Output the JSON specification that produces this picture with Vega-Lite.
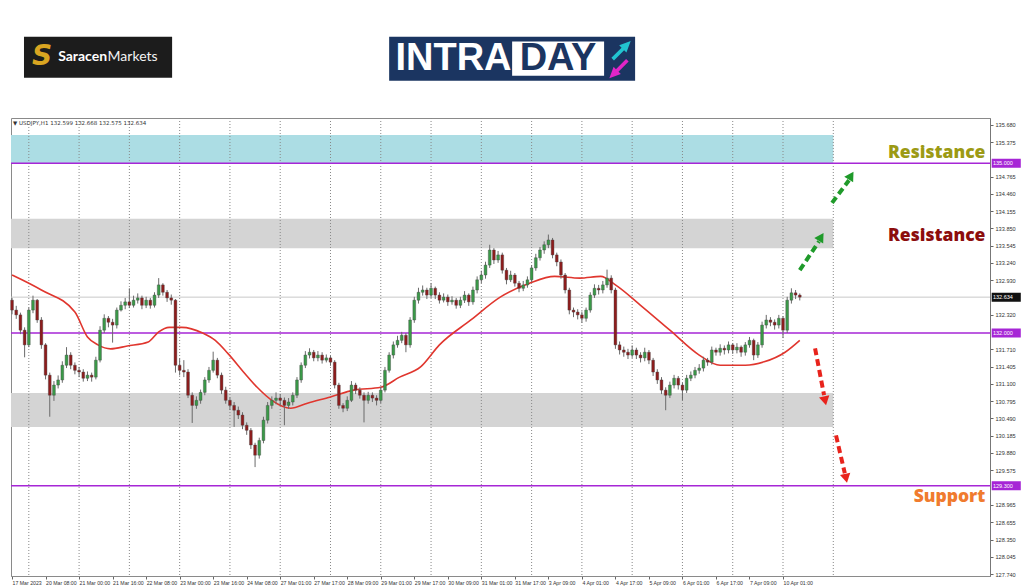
{
"$schema": "https://vega.github.io/schema/vega-lite/v6.json",
"width": 979, "height": 458,
"autosize": "none",
"padding": {"left": 11, "top": 118, "right": 34, "bottom": 11},
"background": "white",
"config": {"view": {"stroke": "#8a8a8a", "strokeWidth": 1}, "font": "DejaVu Sans",
  "axis": {"labelOverlap": false, "labelSeparation": 0, "labelFont": "Liberation Sans", "labelFontSize": 5.6, "labelColor": "#333"},
  "scale": {"continuousPadding": 0}},
"datasets": {
"candles": [
{"t":0,"o":132.58,"h":132.62,"l":132.33,"c":132.405},
{"t":2,"o":132.405,"h":132.48,"l":132.25,"c":132.32},
{"t":4,"o":132.32,"h":132.36,"l":131.98,"c":132.05},
{"t":6,"o":132.05,"h":132.10,"l":131.57,"c":131.79},
{"t":8,"o":131.79,"h":132.45,"l":131.75,"c":132.405},
{"t":10,"o":132.405,"h":132.66,"l":132.35,"c":132.58},
{"t":12,"o":132.58,"h":132.60,"l":132.18,"c":132.23},
{"t":14,"o":132.23,"h":132.28,"l":131.72,"c":131.79},
{"t":16,"o":131.79,"h":131.82,"l":131.18,"c":131.255},
{"t":18,"o":131.255,"h":131.30,"l":130.52,"c":130.90},
{"t":20,"o":130.90,"h":131.15,"l":130.80,"c":131.08},
{"t":22,"o":131.08,"h":131.25,"l":131.02,"c":131.17},
{"t":24,"o":131.17,"h":131.50,"l":131.12,"c":131.43},
{"t":26,"o":131.43,"h":131.75,"l":131.38,"c":131.61},
{"t":28,"o":131.61,"h":131.66,"l":131.36,"c":131.43},
{"t":30,"o":131.43,"h":131.48,"l":131.27,"c":131.34},
{"t":32,"o":131.34,"h":131.40,"l":131.22,"c":131.31},
{"t":34,"o":131.31,"h":131.36,"l":131.14,"c":131.20},
{"t":36,"o":131.20,"h":131.32,"l":131.15,"c":131.255},
{"t":38,"o":131.255,"h":131.30,"l":131.14,"c":131.22},
{"t":40,"o":131.22,"h":131.58,"l":131.18,"c":131.52},
{"t":42,"o":131.52,"h":132.12,"l":131.48,"c":132.05},
{"t":44,"o":132.05,"h":132.33,"l":132.00,"c":132.26},
{"t":46,"o":132.26,"h":132.30,"l":132.10,"c":132.19},
{"t":48,"o":132.19,"h":132.25,"l":131.83,"c":132.14},
{"t":50,"o":132.14,"h":132.45,"l":132.08,"c":132.405},
{"t":52,"o":132.405,"h":132.56,"l":132.38,"c":132.49},
{"t":54,"o":132.49,"h":132.62,"l":132.42,"c":132.55},
{"t":56,"o":132.55,"h":132.79,"l":132.44,"c":132.49},
{"t":58,"o":132.49,"h":132.66,"l":132.45,"c":132.58},
{"t":60,"o":132.58,"h":132.70,"l":132.52,"c":132.62},
{"t":62,"o":132.62,"h":132.66,"l":132.42,"c":132.49},
{"t":64,"o":132.49,"h":132.64,"l":132.44,"c":132.58},
{"t":66,"o":132.58,"h":132.62,"l":132.43,"c":132.49},
{"t":68,"o":132.49,"h":132.72,"l":132.45,"c":132.67},
{"t":70,"o":132.67,"h":132.97,"l":132.62,"c":132.85},
{"t":72,"o":132.85,"h":132.88,"l":132.66,"c":132.72},
{"t":74,"o":132.72,"h":132.76,"l":132.55,"c":132.62},
{"t":76,"o":132.62,"h":132.68,"l":132.50,"c":132.58},
{"t":78,"o":132.58,"h":132.60,"l":131.30,"c":131.43},
{"t":80,"o":131.43,"h":131.55,"l":131.25,"c":131.34},
{"t":82,"o":131.34,"h":131.52,"l":131.22,"c":131.31},
{"t":84,"o":131.31,"h":131.36,"l":130.85,"c":130.90},
{"t":86,"o":130.90,"h":130.95,"l":130.41,"c":130.72},
{"t":88,"o":130.72,"h":130.88,"l":130.66,"c":130.81},
{"t":90,"o":130.81,"h":131.00,"l":130.75,"c":130.95},
{"t":92,"o":130.95,"h":131.22,"l":130.90,"c":131.17},
{"t":94,"o":131.17,"h":131.40,"l":131.12,"c":131.34},
{"t":96,"o":131.34,"h":131.67,"l":131.30,"c":131.52},
{"t":98,"o":131.52,"h":131.56,"l":131.20,"c":131.255},
{"t":100,"o":131.255,"h":131.30,"l":130.92,"c":130.99},
{"t":102,"o":130.99,"h":131.05,"l":130.75,"c":130.81},
{"t":104,"o":130.81,"h":130.86,"l":130.64,"c":130.72},
{"t":106,"o":130.72,"h":130.78,"l":130.34,"c":130.635},
{"t":108,"o":130.635,"h":130.70,"l":130.48,"c":130.55},
{"t":110,"o":130.55,"h":130.60,"l":130.30,"c":130.37},
{"t":112,"o":130.37,"h":130.42,"l":130.20,"c":130.28},
{"t":114,"o":130.28,"h":130.32,"l":129.95,"c":130.02},
{"t":116,"o":130.02,"h":130.06,"l":129.63,"c":129.84},
{"t":118,"o":129.84,"h":130.15,"l":129.78,"c":130.10},
{"t":120,"o":130.10,"h":130.52,"l":130.05,"c":130.46},
{"t":122,"o":130.46,"h":130.78,"l":130.40,"c":130.72},
{"t":124,"o":130.72,"h":130.88,"l":130.66,"c":130.81},
{"t":126,"o":130.81,"h":130.95,"l":130.74,"c":130.85},
{"t":128,"o":130.85,"h":130.92,"l":130.72,"c":130.81},
{"t":130,"o":130.81,"h":130.86,"l":130.37,"c":130.72},
{"t":132,"o":130.72,"h":130.85,"l":130.66,"c":130.78},
{"t":134,"o":130.78,"h":130.95,"l":130.72,"c":130.90},
{"t":136,"o":130.90,"h":131.22,"l":130.85,"c":131.17},
{"t":138,"o":131.17,"h":131.48,"l":131.12,"c":131.43},
{"t":140,"o":131.43,"h":131.68,"l":131.38,"c":131.61},
{"t":142,"o":131.61,"h":131.73,"l":131.55,"c":131.66},
{"t":144,"o":131.66,"h":131.70,"l":131.50,"c":131.56},
{"t":146,"o":131.56,"h":131.68,"l":131.50,"c":131.61},
{"t":148,"o":131.61,"h":131.66,"l":131.46,"c":131.52},
{"t":150,"o":131.52,"h":131.62,"l":131.48,"c":131.56},
{"t":152,"o":131.56,"h":131.60,"l":131.42,"c":131.485},
{"t":154,"o":131.485,"h":131.52,"l":131.02,"c":131.08},
{"t":156,"o":131.08,"h":131.12,"l":130.66,"c":130.72},
{"t":158,"o":130.72,"h":130.76,"l":130.60,"c":130.67},
{"t":160,"o":130.67,"h":130.88,"l":130.62,"c":130.81},
{"t":162,"o":130.81,"h":131.15,"l":130.78,"c":131.08},
{"t":164,"o":131.08,"h":131.12,"l":130.92,"c":130.99},
{"t":166,"o":130.99,"h":131.04,"l":130.84,"c":130.90},
{"t":168,"o":130.90,"h":130.95,"l":130.42,"c":130.81},
{"t":170,"o":130.81,"h":130.96,"l":130.75,"c":130.90},
{"t":172,"o":130.90,"h":130.95,"l":130.78,"c":130.85},
{"t":174,"o":130.85,"h":130.90,"l":130.72,"c":130.81},
{"t":176,"o":130.81,"h":131.05,"l":130.76,"c":130.99},
{"t":178,"o":130.99,"h":131.40,"l":130.95,"c":131.34},
{"t":180,"o":131.34,"h":131.66,"l":131.30,"c":131.61},
{"t":182,"o":131.61,"h":131.85,"l":131.55,"c":131.79},
{"t":184,"o":131.79,"h":131.95,"l":131.74,"c":131.87},
{"t":186,"o":131.87,"h":132.02,"l":131.82,"c":131.96},
{"t":188,"o":131.96,"h":132.00,"l":131.66,"c":131.79},
{"t":190,"o":131.79,"h":132.28,"l":131.74,"c":132.23},
{"t":192,"o":132.23,"h":132.64,"l":132.18,"c":132.58},
{"t":194,"o":132.58,"h":132.80,"l":132.52,"c":132.72},
{"t":196,"o":132.72,"h":132.84,"l":132.66,"c":132.76},
{"t":198,"o":132.76,"h":132.80,"l":132.60,"c":132.67},
{"t":200,"o":132.67,"h":132.88,"l":132.62,"c":132.79},
{"t":202,"o":132.79,"h":132.82,"l":132.60,"c":132.67},
{"t":204,"o":132.67,"h":132.72,"l":132.52,"c":132.58},
{"t":206,"o":132.58,"h":132.70,"l":132.54,"c":132.635},
{"t":208,"o":132.635,"h":132.68,"l":132.48,"c":132.55},
{"t":210,"o":132.55,"h":132.65,"l":132.50,"c":132.58},
{"t":212,"o":132.58,"h":132.62,"l":132.43,"c":132.49},
{"t":214,"o":132.49,"h":132.64,"l":132.44,"c":132.58},
{"t":216,"o":132.58,"h":132.74,"l":132.53,"c":132.67},
{"t":218,"o":132.67,"h":132.70,"l":132.48,"c":132.55},
{"t":220,"o":132.55,"h":132.82,"l":132.50,"c":132.76},
{"t":222,"o":132.76,"h":133.00,"l":132.70,"c":132.94},
{"t":224,"o":132.94,"h":133.10,"l":132.88,"c":133.025},
{"t":226,"o":133.025,"h":133.26,"l":132.96,"c":133.20},
{"t":228,"o":133.20,"h":133.56,"l":133.15,"c":133.467},
{"t":230,"o":133.467,"h":133.50,"l":133.22,"c":133.29},
{"t":232,"o":133.29,"h":133.45,"l":133.24,"c":133.38},
{"t":234,"o":133.38,"h":133.42,"l":133.05,"c":133.11},
{"t":236,"o":133.11,"h":133.15,"l":132.86,"c":132.94},
{"t":238,"o":132.94,"h":133.10,"l":132.90,"c":133.025},
{"t":240,"o":133.025,"h":133.06,"l":132.82,"c":132.88},
{"t":242,"o":132.88,"h":132.92,"l":132.72,"c":132.79},
{"t":244,"o":132.79,"h":132.92,"l":132.74,"c":132.85},
{"t":246,"o":132.85,"h":133.00,"l":132.80,"c":132.94},
{"t":248,"o":132.94,"h":133.20,"l":132.90,"c":133.15},
{"t":250,"o":133.15,"h":133.40,"l":133.10,"c":133.33},
{"t":252,"o":133.33,"h":133.52,"l":133.28,"c":133.467},
{"t":254,"o":133.467,"h":133.62,"l":133.40,"c":133.56},
{"t":256,"o":133.56,"h":133.74,"l":133.50,"c":133.644},
{"t":258,"o":133.644,"h":133.68,"l":133.32,"c":133.38},
{"t":260,"o":133.38,"h":133.42,"l":133.18,"c":133.255},
{"t":262,"o":133.255,"h":133.30,"l":132.96,"c":133.025},
{"t":264,"o":133.025,"h":133.06,"l":132.70,"c":132.76},
{"t":266,"o":132.76,"h":132.80,"l":132.33,"c":132.405},
{"t":268,"o":132.405,"h":132.45,"l":132.28,"c":132.37},
{"t":270,"o":132.37,"h":132.42,"l":132.24,"c":132.32},
{"t":272,"o":132.32,"h":132.38,"l":132.18,"c":132.26},
{"t":274,"o":132.26,"h":132.45,"l":132.20,"c":132.405},
{"t":276,"o":132.405,"h":132.72,"l":132.36,"c":132.67},
{"t":278,"o":132.67,"h":132.86,"l":132.62,"c":132.79},
{"t":280,"o":132.79,"h":132.85,"l":132.68,"c":132.76},
{"t":282,"o":132.76,"h":132.92,"l":132.70,"c":132.85},
{"t":284,"o":132.85,"h":133.12,"l":132.80,"c":132.97},
{"t":286,"o":132.97,"h":133.02,"l":132.70,"c":132.76},
{"t":288,"o":132.76,"h":132.80,"l":131.72,"c":131.79},
{"t":290,"o":131.79,"h":131.85,"l":131.62,"c":131.70},
{"t":292,"o":131.70,"h":131.76,"l":131.58,"c":131.66},
{"t":294,"o":131.66,"h":131.72,"l":131.54,"c":131.61},
{"t":296,"o":131.61,"h":131.78,"l":131.56,"c":131.70},
{"t":298,"o":131.70,"h":131.74,"l":131.54,"c":131.61},
{"t":300,"o":131.61,"h":131.66,"l":131.48,"c":131.56},
{"t":302,"o":131.56,"h":131.74,"l":131.50,"c":131.66},
{"t":304,"o":131.66,"h":131.70,"l":131.45,"c":131.52},
{"t":306,"o":131.52,"h":131.56,"l":131.24,"c":131.31},
{"t":308,"o":131.31,"h":131.36,"l":131.10,"c":131.17},
{"t":310,"o":131.17,"h":131.22,"l":130.92,"c":130.99},
{"t":312,"o":130.99,"h":131.04,"l":130.635,"c":130.90},
{"t":314,"o":130.90,"h":131.14,"l":130.85,"c":131.08},
{"t":316,"o":131.08,"h":131.26,"l":131.02,"c":131.20},
{"t":318,"o":131.20,"h":131.24,"l":131.00,"c":131.08},
{"t":320,"o":131.08,"h":131.12,"l":130.81,"c":130.99},
{"t":322,"o":130.99,"h":131.26,"l":130.94,"c":131.20},
{"t":324,"o":131.20,"h":131.32,"l":131.15,"c":131.255},
{"t":326,"o":131.255,"h":131.40,"l":131.20,"c":131.34},
{"t":328,"o":131.34,"h":131.45,"l":131.28,"c":131.38},
{"t":330,"o":131.38,"h":131.58,"l":131.32,"c":131.52},
{"t":332,"o":131.52,"h":131.56,"l":131.42,"c":131.485},
{"t":334,"o":131.485,"h":131.76,"l":131.44,"c":131.70},
{"t":336,"o":131.70,"h":131.74,"l":131.60,"c":131.66},
{"t":338,"o":131.66,"h":131.80,"l":131.60,"c":131.73},
{"t":340,"o":131.73,"h":131.78,"l":131.62,"c":131.70},
{"t":342,"o":131.70,"h":131.85,"l":131.64,"c":131.79},
{"t":344,"o":131.79,"h":131.82,"l":131.63,"c":131.70},
{"t":346,"o":131.70,"h":131.82,"l":131.64,"c":131.75},
{"t":348,"o":131.75,"h":131.78,"l":131.58,"c":131.66},
{"t":350,"o":131.66,"h":131.84,"l":131.60,"c":131.79},
{"t":352,"o":131.79,"h":131.93,"l":131.74,"c":131.87},
{"t":354,"o":131.87,"h":131.90,"l":131.52,"c":131.61},
{"t":356,"o":131.61,"h":131.84,"l":131.56,"c":131.79},
{"t":358,"o":131.79,"h":132.20,"l":131.74,"c":132.14},
{"t":360,"o":132.14,"h":132.32,"l":132.08,"c":132.23},
{"t":362,"o":132.23,"h":132.28,"l":132.12,"c":132.19},
{"t":364,"o":132.19,"h":132.24,"l":132.06,"c":132.14},
{"t":366,"o":132.14,"h":132.32,"l":132.08,"c":132.26},
{"t":368,"o":132.26,"h":132.30,"l":131.91,"c":132.05},
{"t":370,"o":132.05,"h":132.64,"l":132.00,"c":132.58},
{"t":372,"o":132.58,"h":132.79,"l":132.52,"c":132.71},
{"t":374,"o":132.71,"h":132.76,"l":132.60,"c":132.67},
{"t":376,"o":132.67,"h":132.70,"l":132.575,"c":132.634}
],
"ma": [
{"t":0,"p":133.025},{"t":14,"p":132.76},{"t":30,"p":132.37},{"t":36,"p":131.93},{"t":41,"p":131.79},{"t":47,"p":131.72},{"t":55,"p":131.77},{"t":65,"p":131.84},{"t":70,"p":132.02},{"t":75,"p":132.10},{"t":81,"p":132.10},{"t":91,"p":132.00},{"t":97,"p":131.87},{"t":103,"p":131.64},{"t":111,"p":131.29},{"t":117,"p":131.04},{"t":124,"p":130.81},{"t":133,"p":130.67},{"t":141,"p":130.76},{"t":152,"p":130.87},{"t":163,"p":130.99},{"t":176,"p":131.04},{"t":185,"p":131.22},{"t":195,"p":131.40},{"t":204,"p":131.79},{"t":219,"p":132.23},{"t":233,"p":132.635},{"t":247,"p":132.88},{"t":259,"p":133.00},{"t":271,"p":132.97},{"t":281,"p":133.00},{"t":288,"p":132.85},{"t":300,"p":132.49},{"t":314,"p":132.05},{"t":328,"p":131.61},{"t":338,"p":131.43},{"t":350,"p":131.43},{"t":359,"p":131.49},{"t":369,"p":131.66},{"t":376,"p":131.87}
],
"zones": [
{"zone":"cyan","lo":135.0,"hi":135.5},
{"zone":"grey","lo":133.5,"hi":134.02},
{"zone":"grey","lo":130.34,"hi":130.94}
],
"grid": [{"g":8},{"g":32},{"g":56},{"g":80},{"g":104},{"g":128},{"g":152},{"g":176},{"g":200},{"g":224},{"g":248},{"g":272},{"g":296},{"g":320},{"g":344},{"g":368},{"g":392}],
"levels": [{"p":135.0},{"p":132.0},{"p":129.3}],
"last": [{"p":132.634}],
"garrow": [
{"a":"g1","t":376,"p":133.11},{"a":"g1","t":385.2,"p":133.62},
{"a":"g2","t":391.4,"p":134.30},{"a":"g2","t":399.5,"p":134.70}
],
"ghead": [{"t":386.2,"p":133.70},{"t":400.5,"p":134.78}],
"rarrow": [
{"a":"r1","t":383.3,"p":131.73},{"a":"r1","t":387.6,"p":130.90},
{"a":"r2","t":393.3,"p":130.19},{"a":"r2","t":397.5,"p":129.52}
],
"rhead": [{"t":388.1,"p":130.80},{"t":398.1,"p":129.43}]
},
"layer": [
{
"data": {"name": "zones"},
"mark": {"type": "rect"},
"encoding": {
"x": {"datum": -0.5, "type": "quantitative", "scale": {"domain": [-0.5, 466.8], "nice": false, "zero": false, "padding": 0},
  "axis": {"values": [0,16,32,48,64,80,96,112,128,144,160,176,192,208,224,240,256,272,288,304,320,336,352,368], "tickCount": 200,
    "labelExpr": "['17 Mar 2023','20 Mar 08:00','21 Mar 00:00','21 Mar 16:00','22 Mar 08:00','23 Mar 00:00','23 Mar 16:00','24 Mar 08:00','27 Mar 01:00','27 Mar 17:00','28 Mar 09:00','29 Mar 01:00','29 Mar 17:00','30 Mar 09:00','31 Mar 01:00','31 Mar 17:00','3 Apr 09:00','4 Apr 01:00','4 Apr 17:00','5 Apr 09:00','6 Apr 01:00','6 Apr 17:00','7 Apr 09:00','10 Apr 01:00'][round(datum.value/16)]",
    "labelAlign": "left", "labelFontSize": 5.2, "labelColor": "#333", "labelPadding": 1, "tickSize": 3, "tickColor": "#666",
    "domainColor": "#8a8a8a", "grid": false, "title": null, "labelOverlap": false, "labelFlush": false, "labelBound": false}},
"x2": {"datum": 392},
"y": {"field": "lo", "type": "quantitative", "scale": {"domain": [127.705, 135.80], "nice": false, "zero": false, "padding": 0},
  "axis": {"orient": "right", "values": [135.68,135.375,134.765,134.46,134.155,133.85,133.545,133.24,132.93,132.32,131.71,131.405,131.1,130.795,130.49,130.185,129.88,129.575,128.965,128.655,128.35,128.045,127.74], "tickCount": 200,
    "format": ".3f", "labelFontSize": 5.6, "labelColor": "#333", "labelPadding": 2, "tickSize": 3, "tickColor": "#666",
    "domainColor": "#777", "grid": false, "title": null, "labelOverlap": false, "labelBound": false, "labelFlush": false}},
"y2": {"field": "hi"},
"color": {"condition": {"test": "datum.zone === 'cyan'", "value": "#acdde4"}, "value": "#d4d4d4"}
}
},
{
"data": {"name": "grid"},
"mark": {"type": "rule", "color": "#888", "strokeDash": [1, 2], "strokeWidth": 1},
"encoding": {"x": {"field": "g", "type": "quantitative", "title": null}}
},
{
"data": {"name": "last"},
"mark": {"type": "rule", "color": "#c8c8c8", "strokeWidth": 1},
"encoding": {"y": {"field": "p", "type": "quantitative", "title": null}}
},
{
"data": {"name": "levels"},
"mark": {"type": "rule", "color": "#a626d6", "strokeWidth": 1.3},
"encoding": {"y": {"field": "p", "type": "quantitative", "title": null}}
},
{
"data": {"name": "ma"},
"mark": {"type": "line", "color": "#e0362e", "strokeWidth": 1.6, "interpolate": "monotone"},
"encoding": {"x": {"field": "t", "type": "quantitative", "title": null}, "y": {"field": "p", "type": "quantitative", "title": null}}
},
{
"data": {"name": "candles"},
"mark": {"type": "rule", "strokeWidth": 1},
"encoding": {
"x": {"field": "t", "type": "quantitative", "title": null},
"y": {"field": "l", "type": "quantitative", "title": null},
"y2": {"field": "h"},
"color": {"value": "#6a6a6a"}
}
},
{
"data": {"name": "candles"},
"mark": {"type": "bar", "width": 2.8, "stroke": "#444", "strokeWidth": 0.4},
"encoding": {
"x": {"field": "t", "type": "quantitative", "title": null},
"y": {"field": "o", "type": "quantitative", "title": null},
"y2": {"field": "c"},
"color": {"condition": {"test": "datum.c >= datum.o", "value": "#3a9a48"}, "value": "#8e1c1c"}
}
},
{
"data": {"name": "garrow"},
"mark": {"type": "line", "color": "#1f9a2a", "strokeWidth": 4, "strokeDash": [7, 4], "clip": false},
"encoding": {"x": {"field": "t", "type": "quantitative", "title": null}, "y": {"field": "p", "type": "quantitative", "title": null}, "detail": {"field": "a"}}
},
{
"data": {"name": "ghead"},
"mark": {"type": "point", "shape": "triangle-up", "filled": true, "color": "#1f9a2a", "size": 110, "angle": 32, "opacity": 1},
"encoding": {"x": {"field": "t", "type": "quantitative", "title": null}, "y": {"field": "p", "type": "quantitative", "title": null}}
},
{
"data": {"name": "rarrow"},
"mark": {"type": "line", "color": "#e8231c", "strokeWidth": 4, "strokeDash": [7, 4], "clip": false},
"encoding": {"x": {"field": "t", "type": "quantitative", "title": null}, "y": {"field": "p", "type": "quantitative", "title": null}, "detail": {"field": "a"}}
},
{
"data": {"name": "rhead"},
"mark": {"type": "point", "shape": "triangle-up", "filled": true, "color": "#e8231c", "size": 110, "angle": 168, "opacity": 1},
"encoding": {"x": {"field": "t", "type": "quantitative", "title": null}, "y": {"field": "p", "type": "quantitative", "title": null}}
},
{
"data": {"values": [{}]},
"mark": {"type": "text", "text": "▼ USDJPY,H1  132.599 132.668 132.575 132.634", "align": "left", "baseline": "middle", "fontSize": 5.5, "color": "#333"},
"encoding": {"x": {"datum": 0.5, "type": "quantitative"}, "y": {"datum": 135.72, "type": "quantitative"}}
},
{
"data": {"values": [{}]},
"mark": {"type": "text", "text": "Resistance", "align": "right", "baseline": "middle", "fontSize": 17.5, "fontWeight": 800, "font": "Open Sans", "color": "#9c9a14", "clip": false},
"encoding": {"x": {"datum": 464.6, "type": "quantitative"}, "y": {"datum": 135.18, "type": "quantitative"}}
},
{
"data": {"values": [{}]},
"mark": {"type": "text", "text": "Resistance", "align": "right", "baseline": "middle", "fontSize": 17.5, "fontWeight": 800, "font": "Open Sans", "color": "#8c0d0d", "clip": false},
"encoding": {"x": {"datum": 464.6, "type": "quantitative"}, "y": {"datum": 133.715, "type": "quantitative"}}
},
{
"data": {"values": [{}]},
"mark": {"type": "text", "text": "Support", "align": "right", "baseline": "middle", "fontSize": 17.5, "fontWeight": 800, "font": "Open Sans", "color": "#f07b2e", "clip": false},
"encoding": {"x": {"datum": 464.6, "type": "quantitative"}, "y": {"datum": 129.10, "type": "quantitative"}}
},
{
"data": {"name": "levels"},
"mark": {"type": "rect", "color": "#a626d6", "clip": false},
"encoding": {"x": {"datum": 467.6, "type": "quantitative"}, "x2": {"datum": 481.5}, "y": {"field": "p", "type": "quantitative", "title": null}, "y2": {"field": "p"}, "strokeWidth": {"value": 9}, "stroke": {"value": "#a626d6"}}
},
{
"data": {"name": "levels"},
"mark": {"type": "text", "align": "left", "baseline": "middle", "fontSize": 5.5, "font": "Liberation Sans", "color": "white", "clip": false},
"encoding": {"x": {"datum": 468.2, "type": "quantitative"}, "y": {"field": "p", "type": "quantitative", "title": null}, "text": {"field": "p", "format": ".3f"}}
},
{
"data": {"name": "last"},
"mark": {"type": "rect", "color": "#111", "clip": false},
"encoding": {"x": {"datum": 467.6, "type": "quantitative"}, "x2": {"datum": 481.5}, "y": {"field": "p", "type": "quantitative", "title": null}, "y2": {"field": "p"}, "strokeWidth": {"value": 9}, "stroke": {"value": "#111"}}
},
{
"data": {"name": "last"},
"mark": {"type": "text", "align": "left", "baseline": "middle", "fontSize": 5.5, "font": "Liberation Sans", "color": "white", "clip": false},
"encoding": {"x": {"datum": 468.2, "type": "quantitative"}, "y": {"field": "p", "type": "quantitative", "title": null}, "text": {"field": "p", "format": ".3f"}}
},
{
"data": {"values": [{}]},
"mark": {"type": "rect", "color": "#1c1c1c", "clip": false},
"encoding": {"x": {"datum": 5.7, "type": "quantitative"}, "x2": {"datum": 76.4}, "y": {"datum": 137.237, "type": "quantitative"}, "y2": {"datum": 136.51}}
},
{
"data": {"values": [{}]},
"mark": {"type": "text", "text": "S", "align": "center", "baseline": "middle", "fontSize": 28, "fontWeight": "bold", "fontStyle": "italic", "font": "DejaVu Sans", "color": "#d9a521", "clip": false},
"encoding": {"x": {"datum": 14.3, "type": "quantitative"}, "y": {"datum": 136.87, "type": "quantitative"}}
},
{
"data": {"values": [{}]},
"mark": {"type": "text", "text": "Saracen", "align": "left", "baseline": "middle", "fontSize": 14, "fontWeight": "bold", "font": "Lato", "color": "white", "clip": false},
"encoding": {"x": {"datum": 22, "type": "quantitative"}, "y": {"datum": 136.87, "type": "quantitative"}}
},
{
"data": {"values": [{}]},
"mark": {"type": "text", "text": "Markets", "align": "left", "baseline": "middle", "fontSize": 14, "font": "Lato", "color": "#f2f2f2", "clip": false},
"encoding": {"x": {"datum": 45.6, "type": "quantitative"}, "y": {"datum": 136.87, "type": "quantitative"}}
},
{
"data": {"values": [{}]},
"mark": {"type": "rect", "color": "#1b3561", "clip": false},
"encoding": {"x": {"datum": 180, "type": "quantitative"}, "x2": {"datum": 297.4}, "y": {"datum": 137.237, "type": "quantitative"}, "y2": {"datum": 136.46}}
},
{
"data": {"values": [{}]},
"mark": {"type": "rect", "color": "white", "clip": false},
"encoding": {"x": {"datum": 238.7, "type": "quantitative"}, "x2": {"datum": 282.6}, "y": {"datum": 137.15, "type": "quantitative"}, "y2": {"datum": 136.547}}
},
{
"data": {"values": [{}]},
"mark": {"type": "text", "text": "INTRA", "align": "left", "baseline": "middle", "fontSize": 38, "fontWeight": "bold", "font": "Liberation Sans", "color": "white", "clip": false},
"encoding": {"x": {"datum": 183.0, "type": "quantitative"}, "y": {"datum": 136.84, "type": "quantitative"}}
},
{
"data": {"values": [{}]},
"mark": {"type": "text", "text": "DAY", "align": "center", "baseline": "middle", "fontSize": 38, "fontWeight": "bold", "font": "Liberation Sans", "color": "#1b3561", "clip": false},
"encoding": {"x": {"datum": 260.6, "type": "quantitative"}, "y": {"datum": 136.84, "type": "quantitative"}}
},
{
"data": {"values": [{}]},
"mark": {"type": "point", "shape": "arrow", "filled": true, "size": 650, "angle": 45, "color": "#22c4d0", "opacity": 1, "clip": false},
"encoding": {"x": {"datum": 291.0, "type": "quantitative"}, "y": {"datum": 137.0, "type": "quantitative"}}
},
{
"data": {"values": [{}]},
"mark": {"type": "point", "shape": "arrow", "filled": true, "size": 650, "angle": 225, "color": "#e025c8", "opacity": 1, "clip": false},
"encoding": {"x": {"datum": 289.4, "type": "quantitative"}, "y": {"datum": 136.66, "type": "quantitative"}}
}
]
}
